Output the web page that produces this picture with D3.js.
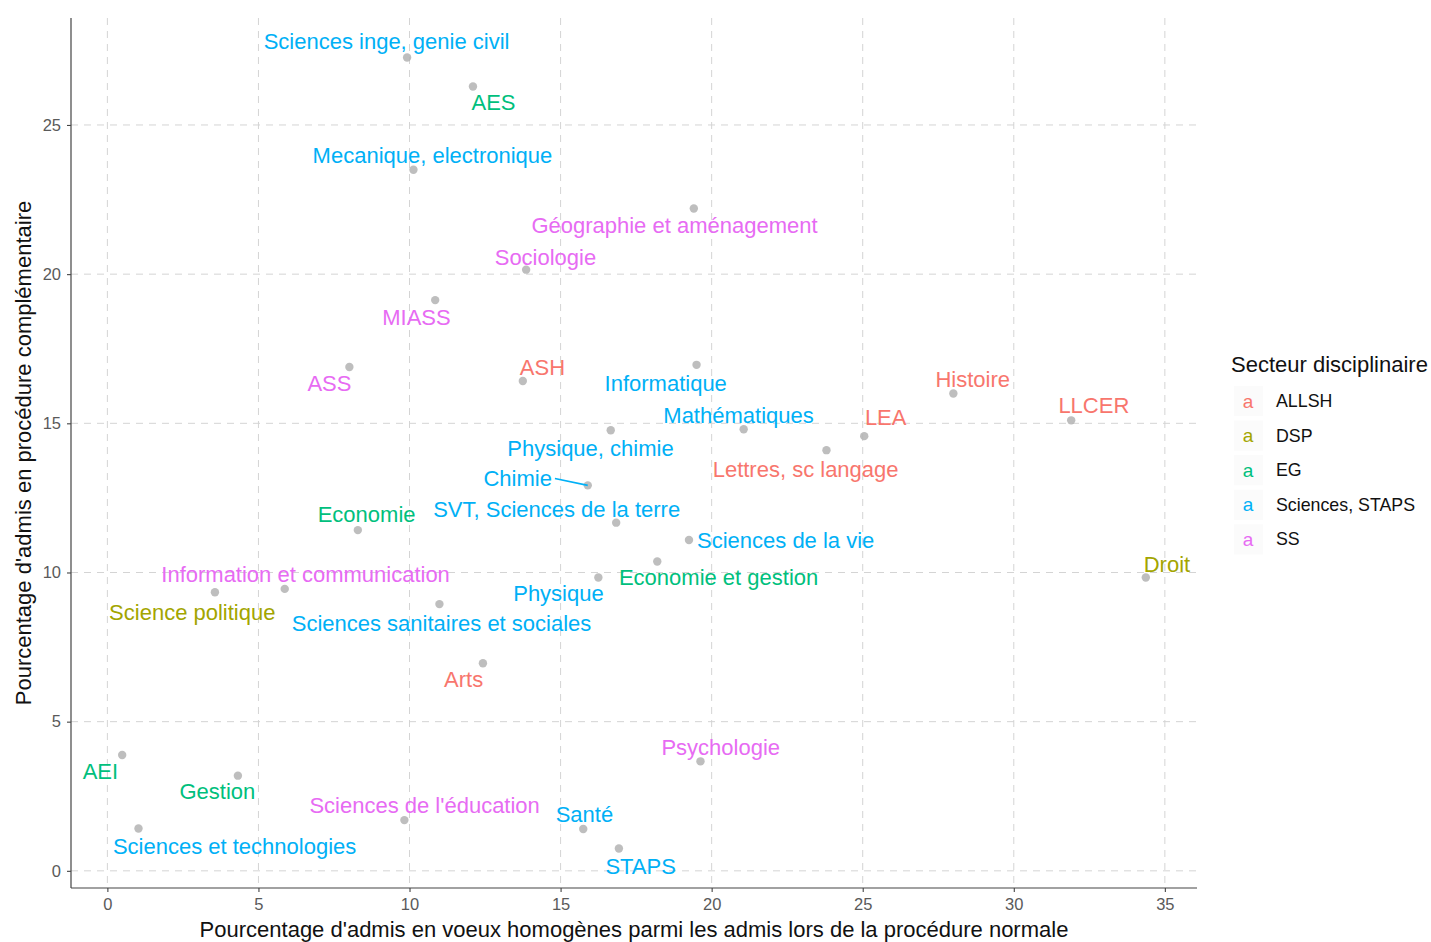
<!DOCTYPE html>
<html>
<head>
<meta charset="utf-8">
<script src="https://cdn.jsdelivr.net/npm/d3@7"></script>
<style>
  html, body { margin: 0; padding: 0; background: #ffffff; }
  svg { display: block; font-family: "Liberation Sans", Arial, Helvetica, sans-serif; }
</style>
</head>
<body>
<svg id="chart" width="1431" height="942"></svg>
<script>
// ---------------- DATA ----------------
const names = [
  "Sciences inge, genie civil", "AES", "Mecanique, electronique", "Géographie et aménagement",
  "Sociologie", "MIASS", "ASS", "ASH", "Informatique", "Histoire", "LLCER", "LEA",
  "Mathématiques", "Physique, chimie", "Lettres, sc langage", "Chimie",
  "SVT, Sciences de la terre", "Economie", "Sciences de la vie", "Economie et gestion",
  "Physique", "Droit", "Information et communication", "Science politique",
  "Sciences sanitaires et sociales", "Arts", "Psychologie", "AEI", "Gestion",
  "Sciences de l'éducation", "Santé", "Sciences et technologies", "STAPS"
];
const sectors = [
  "Sciences, STAPS", "EG", "Sciences, STAPS", "SS",
  "SS", "SS", "SS", "ALLSH", "Sciences, STAPS", "ALLSH", "ALLSH", "ALLSH",
  "Sciences, STAPS", "Sciences, STAPS", "ALLSH", "Sciences, STAPS",
  "Sciences, STAPS", "EG", "Sciences, STAPS", "EG",
  "Sciences, STAPS", "DSP", "SS", "DSP",
  "Sciences, STAPS", "ALLSH", "SS", "EG", "EG",
  "SS", "Sciences, STAPS", "Sciences, STAPS", "Sciences, STAPS"
];
// % admis en voeux homogènes (procédure normale)
const xValues = [
  9.92, 12.1, 10.13, 19.41,
  13.86, 10.85, 8.01, 13.75, 19.5, 28.0, 31.9, 25.05,
  21.06, 16.66, 23.8, 15.9,
  16.84, 8.29, 19.25, 18.2,
  16.25, 34.37, 5.87, 3.56,
  10.99, 12.43, 19.63, 0.49, 4.32,
  9.83, 15.75, 1.03, 16.93
];
// % admis en procédure complémentaire
const yValues = [
  27.26, 26.29, 23.5, 22.2,
  20.15, 19.13, 16.89, 16.42, 16.96, 16.0, 15.1, 14.57,
  14.8, 14.77, 14.1, 12.92,
  11.67, 11.42, 11.09, 10.37,
  9.83, 9.83, 9.45, 9.34,
  8.94, 6.96, 3.67, 3.88, 3.19,
  1.70, 1.40, 1.42, 0.75
];
// repelled label anchors (data units, as placed by the label-repel layout)
const labelX = [
  9.24, 12.78, 10.76, 18.77,
  14.50, 10.23, 7.35, 14.40, 18.48, 28.64, 32.65, 25.76,
  20.89, 15.99, 23.11, 13.58,
  14.87, 8.58, 22.45, 20.23,
  14.93, 35.07, 6.56, 2.81,
  11.06, 11.79, 20.30, -0.23, 3.64,
  10.50, 15.79, 4.21, 17.65
];
const labelY = [
  27.79, 25.74, 23.99, 21.64,
  20.57, 18.56, 16.34, 16.88, 16.34, 16.48, 15.60, 15.20,
  15.27, 14.16, 13.46, 13.15,
  12.11, 11.95, 11.07, 9.83,
  9.30, 10.27, 9.93, 8.66,
  8.29, 6.41, 4.13, 3.32, 2.65,
  2.18, 1.88, 0.81, 0.13
];
const sectorLevels = ["ALLSH", "DSP", "EG", "Sciences, STAPS", "SS"];
const xTicks = [0, 5, 10, 15, 20, 25, 30, 35];
const yTicks = [0, 5, 10, 15, 20, 25];
const xTitle = "Pourcentage d'admis en voeux homogènes parmi les admis lors de la procédure normale";
const yTitle = "Pourcentage d'admis en procédure complémentaire";
const legendTitle = "Secteur disciplinaire";

// ---------------- LAYOUT ----------------
const svg = d3.select("#chart");
const panel = { left: 71, right: 1197, top: 18, bottom: 888 };

function expand(ext) { const d = (ext[1] - ext[0]) * 0.05; return [ext[0] - d, ext[1] + d]; }
const x = d3.scaleLinear().domain(expand(d3.extent(xValues))).range([panel.left, panel.right]);
const y = d3.scaleLinear().domain(expand(d3.extent(yValues))).range([panel.bottom, panel.top]);
const color = d3.scaleOrdinal().domain(sectorLevels)
  .range(["#F8766D", "#A3A500", "#00BF7D", "#00B0F6", "#E76BF3"]);

const rows = names.map((n, i) => ({
  name: n, sector: sectors[i], x: xValues[i], y: yValues[i], lx: labelX[i], ly: labelY[i]
}));

// grid
const grid = svg.append("g");
grid.selectAll("line.gx").data(xTicks).join("line")
  .attr("x1", d => x(d)).attr("x2", d => x(d))
  .attr("y1", panel.top).attr("y2", panel.bottom)
  .attr("stroke", "#d4d4d4").attr("stroke-width", 1).attr("stroke-dasharray", "7,6");
grid.selectAll("line.gy").data(yTicks).join("line")
  .attr("y1", d => y(d)).attr("y2", d => y(d))
  .attr("x1", panel.left).attr("x2", panel.right)
  .attr("stroke", "#d4d4d4").attr("stroke-width", 1).attr("stroke-dasharray", "7,6");

// axes
const xAxis = svg.append("g").attr("transform", `translate(0,${panel.bottom})`)
  .call(d3.axisBottom(x).tickValues(xTicks).tickSize(4).tickPadding(6).tickSizeOuter(0));
const yAxis = svg.append("g").attr("transform", `translate(${panel.left},0)`)
  .call(d3.axisLeft(y).tickValues(yTicks).tickSize(4).tickPadding(6).tickSizeOuter(0));
[xAxis, yAxis].forEach(a => {
  a.select(".domain").attr("stroke", "#444").attr("stroke-width", 1.2);
  a.selectAll(".tick line").attr("stroke", "#444").attr("stroke-width", 1.1);
  a.selectAll(".tick text").attr("fill", "#5a5a5a").style("font-size", "16.5px")
    .style("font-family", "'Liberation Sans', Arial, sans-serif");
});
xAxis.select(".domain").attr("d", `M${panel.left},0H${panel.right}`);
yAxis.select(".domain").attr("d", `M0,${panel.top}V${panel.bottom}`);

// axis titles
svg.append("text").attr("x", (panel.left + panel.right) / 2).attr("y", 937)
  .attr("text-anchor", "middle").style("font-size", "22px").attr("fill", "#111").text(xTitle);
svg.append("text").attr("transform", `translate(31,${(panel.top + panel.bottom) / 2}) rotate(-90)`)
  .attr("text-anchor", "middle").style("font-size", "22px").attr("fill", "#111").text(yTitle);

// points
svg.append("g").selectAll("circle").data(rows).join("circle")
  .attr("cx", d => x(d.x)).attr("cy", d => y(d.y)).attr("r", 4.2)
  .attr("fill", "#b3b3b3").attr("fill-opacity", 0.85);

// labels
const segG = svg.append("g");
const labG = svg.append("g");
const labels = labG.selectAll("text").data(rows).join("text")
  .attr("x", d => x(d.lx)).attr("y", d => y(d.ly))
  .attr("text-anchor", "middle").attr("dominant-baseline", "central")
  .style("font-size", "22px")
  .attr("fill", d => color(d.sector))
  .text(d => d.name);

// segments (ggrepel-like) when the point is far from its label box
labels.each(function (d) {
  const b = this.getBBox();
  const px = x(d.x), py = y(d.y);
  const cx = Math.max(b.x, Math.min(px, b.x + b.width));
  const cy = Math.max(b.y + 4, Math.min(py, b.y + b.height - 4));
  const dist = Math.hypot(px - cx, py - cy);
  if (dist > 20) {
    const sy = b.y + b.height / 2;
    segG.append("line")
      .attr("x1", cx + 3).attr("y1", sy).attr("x2", px).attr("y2", py)
      .attr("stroke", color(d.sector)).attr("stroke-width", 1.6);
  }
});

// legend
const lg = svg.append("g");
lg.append("text").attr("x", 1231).attr("y", 364).attr("dominant-baseline", "central")
  .style("font-size", "22px").attr("fill", "#111").text(legendTitle);
const items = lg.selectAll("g.item").data(sectorLevels).join("g")
  .attr("transform", (d, i) => `translate(0,${401 + i * 34.6})`);
items.append("rect").attr("x", 1234).attr("y", -15).attr("width", 29).attr("height", 30)
  .attr("fill", "#fbfbfb");
items.append("text").attr("x", 1248).attr("y", 0).attr("text-anchor", "middle")
  .attr("dominant-baseline", "central").style("font-size", "19px")
  .attr("fill", d => color(d)).text("a");
items.append("text").attr("x", 1276).attr("y", 0).attr("dominant-baseline", "central")
  .style("font-size", "17.8px").attr("fill", "#111").text(d => d);
</script>
</body>
</html>
